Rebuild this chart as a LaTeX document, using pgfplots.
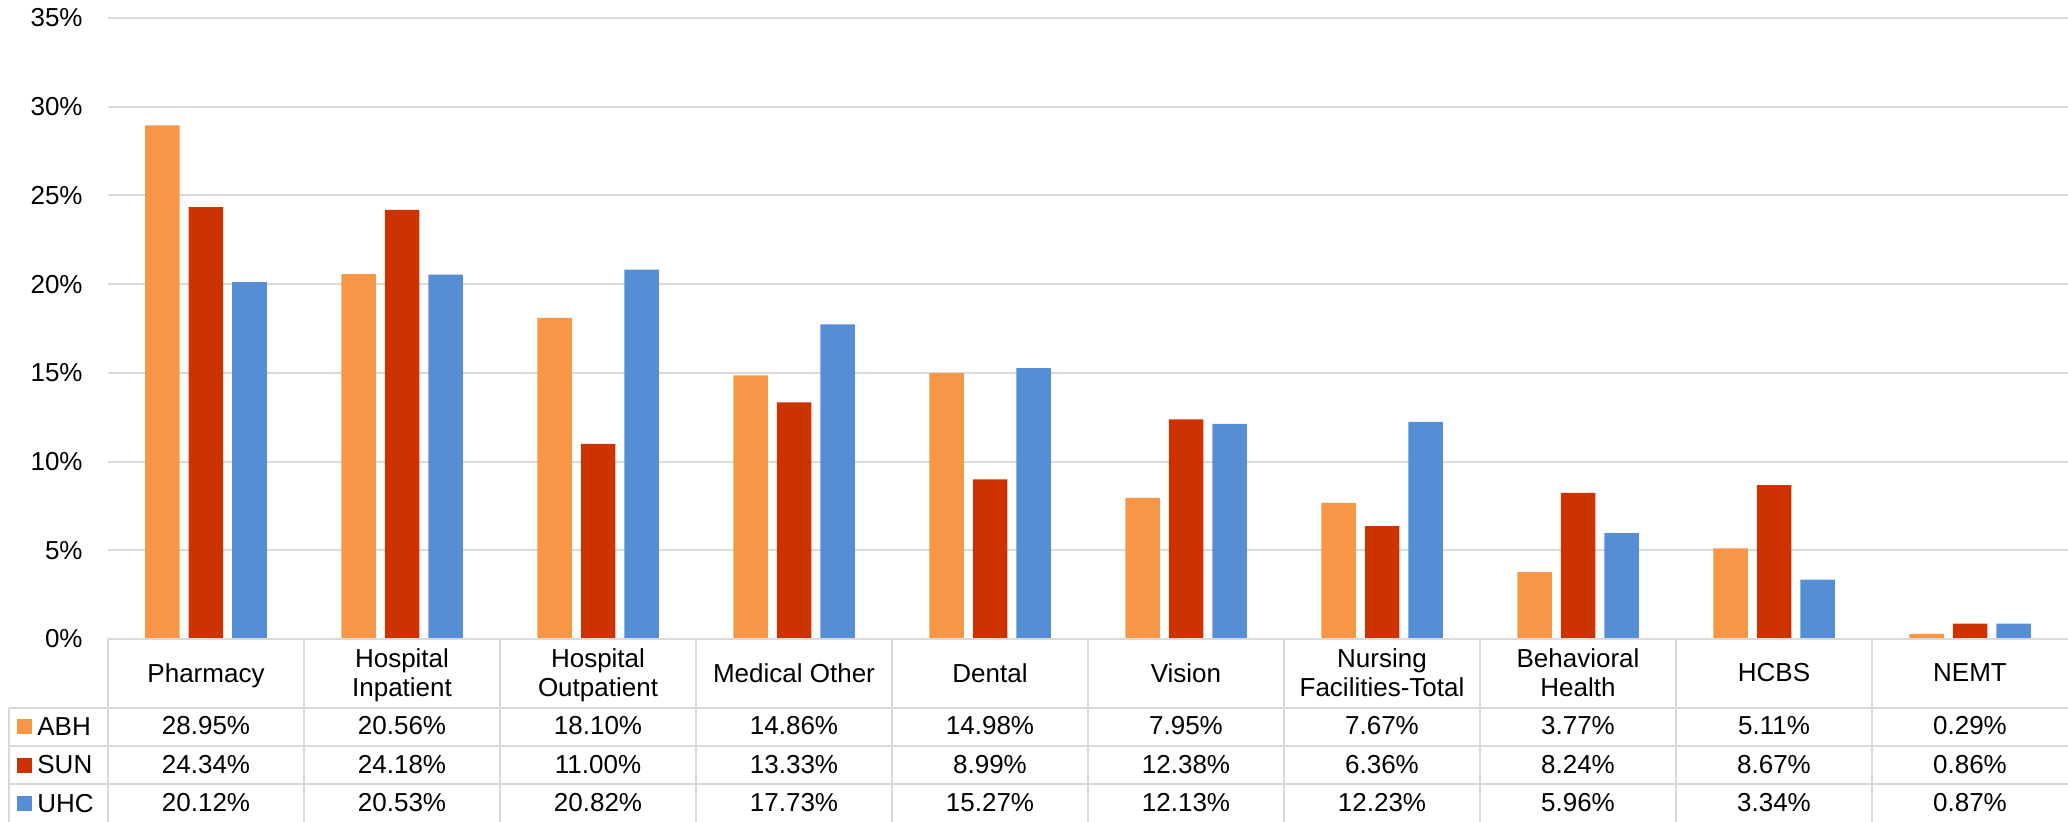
\documentclass[border=0pt]{standalone}
\usepackage{fontspec}
\setmainfont{Liberation Sans}
\usepackage{pgfplots}
\usepackage{pgfplotstable}
\pgfplotsset{compat=1.18}

\definecolor{abh}{RGB}{247,150,70}
\definecolor{sun}{RGB}{204,51,0}
\definecolor{uhc}{RGB}{85,142,213}
\definecolor{rule}{RGB}{217,217,217}

% Share of spending by service category, per plan (percent)
\pgfplotstableread{
idx ABH   SUN   UHC
0   28.95 24.34 20.12
1   20.56 24.18 20.53
2   18.10 11.00 20.82
3   14.86 13.33 17.73
4   14.98  8.99 15.27
5    7.95 12.38 12.13
6    7.67  6.36 12.23
7    3.77  8.24  5.96
8    5.11  8.67  3.34
9    0.29  0.86  0.87
}\shares

\pgfplotsset{
  valuerow/.style={
    draw=none, mark=none, forget plot,
    point meta=explicit,
    nodes near coords={\pgfmathprintnumber[fixed,fixed zerofill,precision=2]{\pgfplotspointmeta}\%},
    nodes near coords align={anchor=base},
    every node near coord/.append style={inner sep=0pt, text=black},
  },
  planbar/.style={
    ybar, bar width=17.25pt, draw=none, fill=#1,
    legend image code/.code={\fill[##1] (0pt,0.5pt) rectangle (7.5pt,8pt);},
  },
}

\begin{document}
\begin{tikzpicture}[font=\fontsize{13}{14.7}\selectfont]
\begin{axis}[
  scale only axis, width=980pt, height=310.5pt,
  xmin=-0.5, xmax=9.5, ymin=0, ymax=35,
  clip=false,
  axis line style={draw=none},
  major tick length=0pt,
  /pgf/number format/assume math mode=true,
  ytick={0,5,...,35},
  yticklabel={\pgfmathprintnumber{\tick}\%},
  yticklabel style={anchor=east, inner sep=0pt, xshift=-12.5pt},
  ymajorgrids, grid style={rule, line width=1pt},
  xtick={0,...,9},
  xticklabels={Pharmacy, {Hospital\\Inpatient}, {Hospital\\Outpatient},
    Medical Other, Dental, Vision, {Nursing\\Facilities-Total},
    {Behavioral\\Health}, HCBS, NEMT},
  xticklabel style={align=center, anchor=center, inner sep=0pt,
    text depth=0pt, yshift=-16.9pt},
  legend style={at={(-0.046429,-0.111111)}, anchor=north west,
    draw=none, fill=none, inner sep=0pt, row sep=0pt, column sep=2.5pt,
    nodes={inner sep=0pt, text height=13.5pt, text depth=5.75pt, anchor=base west}},
]
\addplot[planbar=abh, bar shift=-21.75pt] table[x=idx, y=ABH] {\shares};
\addplot[planbar=sun, bar shift=0pt]      table[x=idx, y=SUN] {\shares};
\addplot[planbar=uhc, bar shift=21.75pt]  table[x=idx, y=UHC] {\shares};
\legend{ABH, SUN, UHC}

% value rows of the data table beneath the bars
\addplot[valuerow] table[x=idx, y expr=-5.41, meta=ABH] {\shares};
\addplot[valuerow] table[x=idx, y expr=-7.58, meta=SUN] {\shares};
\addplot[valuerow] table[x=idx, y expr=-9.75, meta=UHC] {\shares};

\coordinate (O) at (rel axis cs:0,0);
\end{axis}

% table rules
\begin{scope}[draw=rule, line width=1pt]
  \draw (O) -- ++(980pt,0pt);
  \draw ([shift={(-49.5pt,-34.5pt)}]O) -- ++(1029.5pt,0pt);
  \draw ([shift={(-49.5pt,-53.75pt)}]O) -- ++(1029.5pt,0pt);
  \draw ([shift={(-49.5pt,-72.75pt)}]O) -- ++(1029.5pt,0pt);
  \foreach \k in {0,...,9}
    \draw ([shift={({\k*98pt},0pt)}]O) -- ++(0pt,-91.5pt);
  \draw ([shift={(-49.5pt,-34.5pt)}]O) -- ++(0pt,-57pt);
\end{scope}

\pgfresetboundingbox
\path[use as bounding box] ([shift={(-54pt,-91.5pt)}]O) rectangle ([shift={(980pt,319.5pt)}]O);
\end{tikzpicture}
\end{document}
